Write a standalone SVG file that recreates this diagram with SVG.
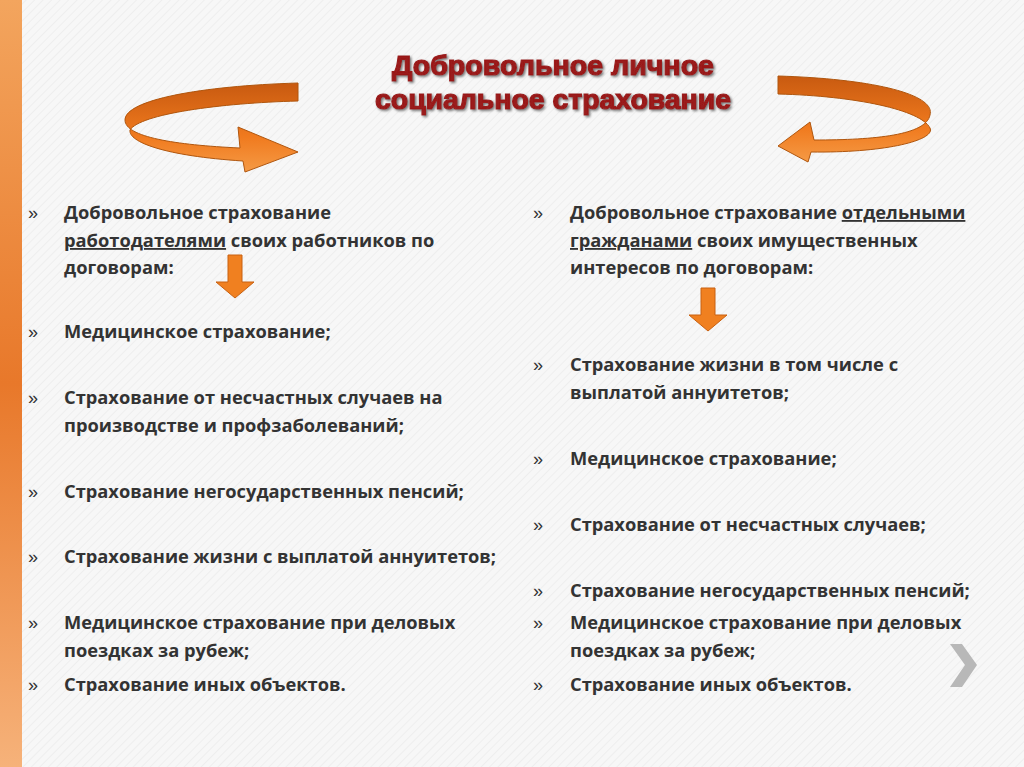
<svg xmlns="http://www.w3.org/2000/svg" width="1024" height="767" viewBox="0 0 1024 767">
<defs>
<linearGradient id="bar" x1="0" y1="0" x2="0" y2="1"><stop offset="0" stop-color="#f3a55e"/><stop offset="0.5" stop-color="#e8782a"/><stop offset="1" stop-color="#f6b27a"/></linearGradient>
<linearGradient id="or" x1="0" y1="0" x2="0" y2="1"><stop offset="0" stop-color="#c85a10"/><stop offset="0.6" stop-color="#f07a1e"/><stop offset="1" stop-color="#f59a45"/></linearGradient>
<pattern id="hatch" width="6" height="6" patternUnits="userSpaceOnUse" patternTransform="rotate(45)"><rect width="6" height="6" fill="#f7f7f7"/><line x1="0" y1="0" x2="0" y2="6" stroke="#ececec" stroke-width="1.5"/></pattern>
<filter id="sh"><feDropShadow dx="1.5" dy="1.5" stdDeviation="1" flood-color="#777"/></filter>
</defs>
<style>
.t{font-family:"Open Sans","Liberation Sans",sans-serif;font-weight:bold;font-size:18.3px;fill:#333}
.b{font-family:"Liberation Sans",sans-serif;font-size:18px;fill:#333}
.u{text-decoration:underline}
.ti{font-family:"Liberation Sans",sans-serif;font-weight:bold;font-size:27px;fill:#9a1a1a;stroke:#9a1a1a;stroke-width:1.2;text-anchor:middle}
.arr{fill:url(#or);stroke:#b0560e;stroke-width:1}
.da{fill:#f08020;stroke:#c86010;stroke-width:1}
</style>
<rect width="1024" height="767" fill="url(#hatch)"/>
<rect x="0" y="0" width="22" height="767" fill="url(#bar)"/>
<g id="title" filter="url(#sh)">
<text class="ti" x="553" y="75" textLength="322" lengthAdjust="spacingAndGlyphs">Добровольное личное</text>
<text class="ti" x="553" y="109" textLength="356" lengthAdjust="spacingAndGlyphs">социальное страхование</text>
</g>
<g id="connectors">
<g id="curl-left">
<path class="arr" d="M298,83 C200,86 125,100 125,120 C125,137 175,145 240,148 L238,127 L298,152 L245,172 L243,161 C165,156 128,142 130,130 C140,114 220,103 298,101 Z"/>
</g>
<g id="curl-right" transform="translate(1076,0) scale(-1,1)">
<path class="arr" d="M298,76 C200,79 140,95 146,115 C150,135 200,140 262,140 L266,122 L298,146 L268,162 L265,152 C190,153 140,140 146,128 C155,110 220,96 298,94 Z"/>
</g>
<path class="da" d="M228,255 L242,255 L242,282 L254,282 L235,298 L216,282 L228,282 Z"/>
<path class="da" d="M701,288 L715,288 L715,315 L727,315 L708,331 L689,315 L701,315 Z"/>
</g>
<g id="left-list">
<text class="b" x="28" y="219">»</text><text class="t" x="64" y="219">Добровольное страхование</text>
<text class="t" x="64" y="247"><tspan class="u">работодателями</tspan> своих работников по</text>
<text class="t" x="64" y="274">договорам:</text>
<text class="b" x="28" y="338">»</text><text class="t" x="64" y="338">Медицинское страхование;</text>
<text class="b" x="28" y="404">»</text><text class="t" x="64" y="404">Страхование от несчастных случаев на</text>
<text class="t" x="64" y="432">производстве и профзаболеваний;</text>
<text class="b" x="28" y="498">»</text><text class="t" x="64" y="498">Страхование негосударственных пенсий;</text>
<text class="b" x="28" y="563">»</text><text class="t" x="64" y="563">Страхование жизни с выплатой аннуитетов;</text>
<text class="b" x="28" y="629">»</text><text class="t" x="64" y="629">Медицинское страхование при деловых</text>
<text class="t" x="64" y="657">поездках за рубеж;</text>
<text class="b" x="28" y="691">»</text><text class="t" x="64" y="691">Страхование иных объектов.</text>
</g>
<g id="right-list">
<text class="b" x="533" y="219">»</text><text class="t" x="570" y="219">Добровольное страхование <tspan class="u">отдельными</tspan></text>
<text class="t" x="570" y="247"><tspan class="u">гражданами</tspan> своих имущественных</text>
<text class="t" x="570" y="274">интересов по договорам:</text>
<text class="b" x="533" y="371">»</text><text class="t" x="570" y="371">Страхование жизни в том числе с</text>
<text class="t" x="570" y="399">выплатой аннуитетов;</text>
<text class="b" x="533" y="465">»</text><text class="t" x="570" y="465">Медицинское страхование;</text>
<text class="b" x="533" y="531">»</text><text class="t" x="570" y="531">Страхование от несчастных случаев;</text>
<text class="b" x="533" y="597">»</text><text class="t" x="570" y="597">Страхование негосударственных пенсий;</text>
<text class="b" x="533" y="629">»</text><text class="t" x="570" y="629">Медицинское страхование при деловых</text>
<text class="t" x="570" y="657">поездках за рубеж;</text>
<text class="b" x="533" y="691">»</text><text class="t" x="570" y="691">Страхование иных объектов.</text>
</g>
<path id="next" d="M950,644 L962,644 L977,665 L962,687 L950,687 L965,665 Z" fill="#b8b8b8"/>
</svg>
